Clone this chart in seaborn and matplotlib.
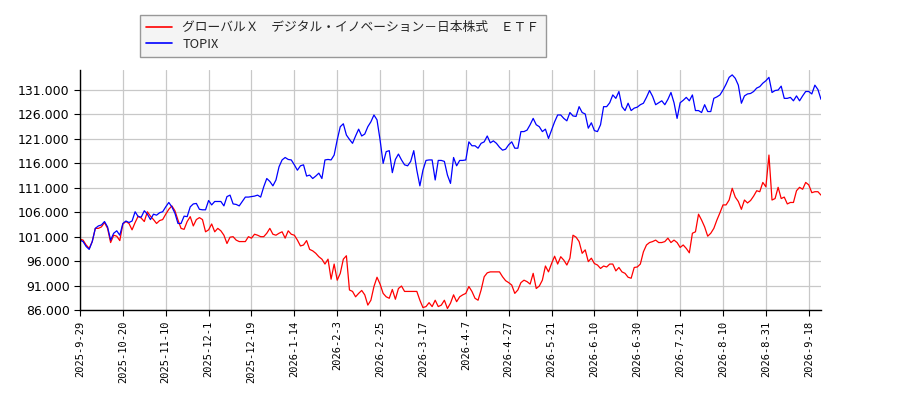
import numpy as np
import pandas as pd
import matplotlib
matplotlib.use("Agg")
import matplotlib.pyplot as plt
from matplotlib.ticker import FuncFormatter, FixedLocator
import seaborn as sns

series_names = ["グローバルＸ　デジタル・イノベーション－日本株式　ＥＴＦ", "TOPIX"]

tick_labels = ["2025-9-29", "2025-10-20", "2025-11-10", "2025-12-1", "2025-12-19",
               "2026-1-14", "2026-2-3", "2026-2-25", "2026-3-17", "2026-4-7",
               "2026-4-27", "2026-5-21", "2026-6-10", "2026-6-30", "2026-7-21",
               "2026-8-10", "2026-8-31", "2026-9-18"]

etf_values = [
    100500, 100300, 99300, 98600, 100000, 102700, 102700, 103000, 103900, 102700,
    99800, 101300, 101100, 100200, 103600, 104100, 103700, 102400, 103900, 105200,
    104800, 104100, 106100, 105200, 104500, 103700, 104300, 104500, 105600, 106600,
    107300, 106300, 104400, 102700, 102500, 104100, 105100, 103200, 104500, 104900,
    104500, 102000, 102400, 103600, 102000, 102700, 102200, 101300, 99600, 100900,
    101000, 100300, 100000, 100000, 100000, 101000, 100700, 101500, 101300, 101000,
    101000, 101700, 102700, 101500, 101300, 101700, 102000, 100700, 102200, 101500,
    101300, 100300, 99100, 99300, 100200, 98400, 98100, 97600, 96900, 96400,
    95400, 96400, 92300, 95400, 92100, 93500, 96400, 97100, 90100, 89800,
    88700, 89400, 90000, 89100, 87000, 88000, 90800, 92700, 91300, 89400,
    88700, 88400, 90200, 88200, 90400, 90900, 89800, 89800, 89800, 89800,
    89800, 88000, 86500, 86700, 87500, 86700, 88000, 86700, 87000, 88000,
    86300, 87400, 89100, 87700, 88700, 89100, 89400, 90800, 89800, 88400,
    88000, 90100, 92800, 93600, 93800, 93800, 93800, 93800, 92800, 92000,
    91600, 91100, 89400, 90100, 91600, 92100, 91800, 91300, 93500, 90400,
    90900, 92100, 95000, 93800, 95500, 97000, 95400, 96900, 96200, 95200,
    96600, 101300, 100900, 100000, 97600, 98300, 95900, 96600, 95500, 95200,
    94500, 95000, 94800, 95400, 95400, 94000, 94700, 93800, 93500, 92700,
    92500, 94700, 94800, 95400, 97900, 99300, 99800, 100000, 100300, 99800,
    99800, 100000, 100700, 99800, 100300, 99800, 98800, 99300, 98600, 97700,
    101700, 102000, 105600, 104400, 103000, 101100, 101700, 102700, 104400, 105900,
    107500, 107500, 108500, 110900, 109100, 108200, 106600, 108500, 107900, 108400,
    109300, 110400, 110200, 112100, 111200, 117700, 108500, 108800, 111100, 108800,
    109100, 107700, 108000, 108000, 110400, 111100, 110700, 112100, 111600, 110000,
    110200, 110200, 109500,
]

topix_values = [
    100300, 100000, 99000, 98400, 100000, 102700, 103200, 103400, 104100, 103000,
    100300, 101700, 102200, 101300, 103700, 104200, 103900, 104200, 106100, 105100,
    105000, 106300, 105600, 104500, 105600, 105400, 105900, 106100, 107100, 108000,
    107100, 105800, 103700, 103700, 105200, 105100, 107100, 107700, 107800, 106600,
    106500, 106500, 108400, 107500, 108200, 108200, 108200, 107300, 109200, 109500,
    107700, 107600, 107300, 108200, 109100, 109100, 109200, 109300, 109500, 109100,
    111200, 112900, 112300, 111400, 112600, 115300, 116700, 117200, 116800, 116700,
    115700, 114600, 115500, 115700, 113400, 113600, 112900, 113400, 114000, 112900,
    116700, 116800, 116700, 117700, 120800, 123500, 124100, 121800, 120900, 120100,
    121600, 123000, 121600, 122000, 123500, 124500, 125900, 124900, 120800, 116000,
    118400, 118600, 114100, 116800, 117900, 116700, 115700, 115500, 116400, 118600,
    114600, 111400, 114600, 116600, 116700, 116700, 112600, 116600, 116600, 116400,
    113600, 111900, 117200, 115500, 116600, 116600, 116700, 120400, 119600, 119600,
    119100, 120100, 120400, 121600, 120200, 120600, 120100, 119300, 118700, 118900,
    119800, 120400, 119100, 119100, 122500, 122500, 122800, 123900, 125200, 123900,
    123500, 122500, 123000, 121100, 122800, 124500, 125900, 125900, 125200, 124700,
    126400, 125700, 125600, 127600, 126400, 126100, 123200, 124300, 122700, 122500,
    123900, 127600, 127600, 128400, 130000, 129300, 130700, 127600, 126800, 128300,
    126800, 127300, 127500, 128000, 128300, 129500, 130900, 129700, 128000, 128400,
    128800, 128000, 129100, 130500, 128400, 125200, 128400, 128900, 129500, 128800,
    130000, 126800, 126800, 126400, 128000, 126600, 126600, 129300, 129600, 130000,
    131000, 132200, 133600, 134100, 133400, 132000, 128300, 129800, 130200, 130300,
    130700, 131400, 131700, 132400, 132900, 133600, 130500, 130900, 131000, 131800,
    129300, 129300, 129500, 128800, 129800, 128800, 129800, 130700, 130700, 130200,
    132000, 131100, 129100,
]

y_ticks = [86000, 91000, 96000, 101000, 106000, 111000, 116000, 121000, 126000, 131000]

n = len(topix_values)
df = pd.DataFrame({
    "idx": list(range(n)) * 2,
    "value": etf_values + topix_values,
    "series": [series_names[0]] * n + [series_names[1]] * n,
})

sns.set_theme(style="ticks")
plt.rcParams["font.family"] = ["Noto Sans CJK JP", "DejaVu Sans"]

fig = plt.figure(figsize=(9, 4), dpi=100)
ax = fig.add_axes([80 / 900, 1 - 310 / 400, (821 - 80) / 900, (310 - 70) / 400])

sns.lineplot(data=df, x="idx", y="value", hue="series",
             palette={series_names[0]: "#ff0000", series_names[1]: "#0000ff"},
             linewidth=0.9, ax=ax, legend=False)

ax.set_xlim(0, n - 1)
ax.set_ylim(86000, 135100)
ax.xaxis.set_major_locator(FixedLocator([14 * i for i in range(len(tick_labels))]))
ax.set_xticklabels(tick_labels, rotation=90, fontsize=7.5, family="DejaVu Sans Mono")
ax.yaxis.set_major_locator(FixedLocator(y_ticks))
ax.yaxis.set_major_formatter(FuncFormatter(lambda v, p: f"{v:,.0f}".replace(",", ".")))
ax.tick_params(axis="y", labelsize=9)
for lbl in ax.get_yticklabels():
    lbl.set_family("DejaVu Sans")
ax.set_xlabel("")
ax.set_ylabel("")
ax.grid(True, color="#c8c8c8", linewidth=0.9)
ax.set_axisbelow(True)
sns.despine(ax=ax, top=True, right=True)
for s in ["left", "bottom"]:
    ax.spines[s].set_color("black")
    ax.spines[s].set_linewidth(1.0)
ax.tick_params(colors="black", length=4, width=0.8)

handles = [plt.Line2D([], [], color="#ff0000", lw=1.2),
           plt.Line2D([], [], color="#0000ff", lw=1.2)]
leg = fig.legend(handles, series_names, loc="upper left",
                 bbox_to_anchor=(140 / 900, 1 - 15 / 400), borderaxespad=0,
                 fontsize=9.2, frameon=True, fancybox=False, edgecolor="#808080",
                 facecolor="#f2f2f2", borderpad=0.5, labelspacing=0.25,
                 handlelength=2.0)
leg.get_frame().set_linewidth(1.0)

fig.savefig("out.png", dpi=100)
